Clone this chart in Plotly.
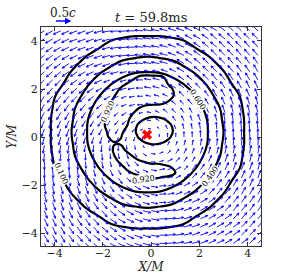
import math
import plotly.graph_objects as go
import plotly.figure_factory as ff

# ---------------- data ----------------
arrow_x = [-4.42, -4.08, -3.74, -3.40, -3.06, -2.72, -2.38, -2.04, -1.70, -1.36, -1.02, -0.68, -0.34, 0.0,
           0.34, 0.68, 1.02, 1.36, 1.70, 2.04, 2.38, 2.72, 3.06, 3.40, 3.74, 4.08, 4.42]
arrow_y = [4.42, 4.08, 3.74, 3.40, 3.06, 2.72, 2.38, 2.04, 1.70, 1.36, 1.02, 0.68, 0.34, 0.0,
           -0.34, -0.68, -1.02, -1.36, -1.70, -2.04, -2.38, -2.72, -3.06, -3.40, -3.74, -4.08, -4.42]

angle_rows = [
    [210,210,205,205,200,200,200,195,190,185,185,180,175,170,170,165,160,160,155,150,145,145,140,135,135,135,135],
    [210,210,210,205,200,200,200,195,195,190,185,180,175,170,170,165,160,155,150,150,145,140,140,135,135,135,135],
    [215,215,210,205,205,200,200,200,195,190,185,180,175,170,170,165,160,155,150,145,140,140,135,135,135,130,130],
    [215,215,215,210,205,205,200,200,195,190,185,180,175,170,170,165,160,155,150,145,140,135,135,135,130,130,130],
    [220,220,215,215,210,205,205,200,200,195,190,180,175,170,170,165,155,150,145,140,135,135,135,130,130,125,125],
    [225,220,220,215,215,210,205,200,200,195,190,185,175,170,170,160,155,150,145,140,135,135,130,130,125,125,120],
    [225,225,225,220,215,215,210,205,200,200,195,185,180,170,165,160,150,145,140,135,135,130,130,125,120,120,120],
    [230,230,225,225,220,220,215,210,205,200,195,190,180,170,165,155,150,140,135,135,130,125,125,120,120,115,115],
    [235,230,230,230,225,225,220,215,210,205,200,190,180,170,165,155,145,135,135,130,125,120,120,115,115,115,110],
    [240,235,235,235,230,230,225,220,215,210,200,195,185,170,160,150,140,135,130,125,120,115,115,110,110,110,105],
    [240,240,240,240,235,235,230,230,225,220,210,200,190,170,155,140,135,125,120,115,115,110,110,105,105,105,105],
    [245,245,245,245,245,240,240,235,235,230,220,210,195,170,150,135,125,115,110,110,105,105,100,100,100,100,100],
    [250,250,250,250,250,250,245,245,245,240,235,230,210,170,135,115,110,105,100,100,100,95,95,95,95,95,95],
    [255,255,255,255,255,255,255,255,255,255,255,255,255,0,90,90,90,90,90,90,90,90,90,90,90,90,90],
    [260,260,260,260,260,260,265,265,265,270,275,280,300,350,45,65,70,75,80,80,80,85,85,85,85,85,85],
    [265,265,265,265,265,270,270,275,275,280,290,300,325,350,20,45,55,65,70,70,75,75,80,80,80,80,80],
    [270,270,270,270,275,275,280,280,285,290,300,310,330,350,15,30,45,55,60,65,65,70,70,75,75,75,75],
    [270,275,275,275,280,280,285,290,295,300,310,325,335,350,10,20,30,45,50,55,60,65,65,70,70,70,75],
    [275,280,280,280,285,285,290,295,300,305,320,330,340,350,5,15,25,35,45,50,55,60,60,65,65,65,70],
    [280,280,285,285,290,290,295,300,305,310,325,330,340,350,5,15,20,30,35,45,50,55,55,60,60,65,65],
    [285,285,285,290,295,295,300,305,310,320,325,335,340,350,5,10,20,25,30,35,45,50,50,55,60,60,60],
    [285,290,290,295,295,300,305,310,320,325,330,335,345,350,0,10,15,20,25,30,35,45,50,50,55,55,60],
    [290,290,295,295,300,305,305,310,320,325,330,340,345,350,0,5,15,20,25,30,35,35,45,50,50,55,55],
    [295,295,295,300,305,305,310,320,325,330,335,340,345,350,0,5,10,15,20,25,30,35,35,45,50,50,50],
    [295,295,300,305,305,310,310,320,325,330,335,340,345,350,0,5,10,15,20,25,30,30,35,35,45,50,50],
    [300,300,300,305,310,310,320,325,325,330,335,340,345,350,0,5,10,15,20,20,25,30,30,35,45,45,45],
    [300,300,305,305,310,320,320,325,330,335,335,340,345,350,0,5,10,10,15,20,25,25,30,35,35,45,45],
]

speed_rows = [
    "666666666666666666666666666",
    "666666666666666666666666666",
    "666666666666666666666666666",
    "666666666666666666666666666",
    "666666666666666666666666666",
    "666666666655555556666666666",
    "666666665555555555566666666",
    "666666655555555555556666666",
    "666666555544444445555666666",
    "666666555444444444555666666",
    "666665554444333444455566666",
    "666665554443333344455566666",
    "666665554433222334455566666",
    "666665554433202334455566666",
    "666665554433222334455566666",
    "666665554443333344455566666",
    "666665554444333444455566666",
    "666666555444444444555666666",
    "666666555544444445555666666",
    "666666655555555555556666666",
    "666666665555555555566666666",
    "666666666655555556666666666",
    "666666666666666666666666666",
    "666666666666666666666666666",
    "666666666666666666666666666",
    "666666666666666666666666666",
    "666666666666666666666666666",
]
speed_unit = 0.04
key_speed = 0.5

# coarse density grid (whole box), rows bottom -> top
dens_x = [-4.65, -4.15, -3.65, -3.15, -2.65, -2.15, -1.65, -1.15, -0.65, -0.15,
          0.35, 0.85, 1.35, 1.85, 2.35, 2.85, 3.35, 3.85, 4.35]
dens_y = [-4.3, -3.8, -3.3, -2.8, -2.3, -1.8, -1.3, -0.8, -0.3, 0.2,
          0.7, 1.2, 1.7, 2.2, 2.7, 3.2, 3.7, 4.2, 4.7]
dens_rows = [
    [0,0,0,0,0,0,0,0,.01,.02,.01,0,0,0,0,0,0,0,0],
    [0,0,0,0,0,.02,.06,.08,.10,.10,.10,.08,.06,.02,0,0,0,0,0],
    [0,0,0,0,.05,.10,.17,.23,.26,.28,.26,.23,.17,.10,.05,0,0,0,0],
    [0,0,0,.06,.13,.24,.33,.40,.43,.45,.43,.40,.33,.24,.13,.06,0,0,0],
    [0,0,.05,.13,.26,.38,.47,.54,.59,.60,.59,.54,.47,.38,.26,.13,.05,0,0],
    [0,.02,.10,.24,.38,.50,.60,.69,.75,.77,.75,.69,.60,.50,.38,.24,.10,.02,0],
    [0,.06,.17,.33,.47,.60,.73,.82,.86,.87,.86,.82,.73,.60,.47,.33,.17,.06,0],
    [0,.08,.23,.40,.54,.69,.82,.88,.89,.89,.89,.88,.82,.69,.54,.40,.23,.08,0],
    [.01,.10,.26,.43,.59,.75,.86,.89,.90,.90,.90,.89,.86,.75,.59,.43,.26,.10,.01],
    [.02,.10,.28,.45,.60,.77,.87,.89,.90,.90,.90,.89,.87,.77,.60,.45,.28,.10,.02],
    [.01,.10,.26,.43,.59,.75,.86,.89,.90,.90,.90,.89,.86,.75,.59,.43,.26,.10,.01],
    [0,.08,.23,.40,.54,.69,.82,.88,.89,.89,.89,.88,.82,.69,.54,.40,.23,.08,0],
    [0,.06,.17,.33,.47,.60,.73,.82,.86,.87,.86,.82,.73,.60,.47,.33,.17,.06,0],
    [0,.02,.10,.24,.38,.50,.60,.69,.75,.77,.75,.69,.60,.50,.38,.24,.10,.02,0],
    [0,0,.05,.13,.26,.38,.47,.54,.59,.60,.59,.54,.47,.38,.26,.13,.05,0,0],
    [0,0,0,.06,.13,.24,.33,.40,.43,.45,.43,.40,.33,.24,.13,.06,0,0,0],
    [0,0,0,0,.05,.10,.17,.23,.26,.28,.26,.23,.17,.10,.05,0,0,0,0],
    [0,0,0,0,0,.02,.06,.08,.10,.10,.10,.08,.06,.02,0,0,0,0,0],
    [0,0,0,0,0,0,0,0,.01,.02,.01,0,0,0,0,0,0,0,0],
]
ring_levels = [0.1, 0.4, 0.6]

# refined density grid of the core, rows bottom -> top
core_x = [-2.25, -2.0, -1.75, -1.5, -1.25, -1.0, -0.75, -0.5, -0.25, 0.0, 0.25, 0.5, 0.75, 1.0, 1.25]
core_y = [-2.0, -1.75, -1.5, -1.25, -1.0, -0.75, -0.5, -0.25, 0.0, 0.25, 0.5, 0.75,
          1.0, 1.25, 1.5, 1.75, 2.0, 2.25, 2.5, 2.75]
core_rows = [
    [.75,.75,.773,.80,.824,.839,.851,.864,.878,.881,.876,.867,.862,.86,.843],
    [.75,.76,.794,.826,.854,.875,.887,.90,.913,.918,.914,.905,.90,.895,.87],
    [.773,.80,.827,.854,.88,.906,.922,.935,.948,.955,.951,.943,.939,.922,.885],
    [.793,.826,.854,.881,.907,.933,.958,.961,.95,.943,.941,.935,.925,.908,.878],
    [.806,.842,.877,.907,.934,.96,.942,.925,.914,.903,.904,.898,.888,.875,.855],
    [.815,.85,.887,.924,.96,.937,.913,.888,.878,.867,.866,.86,.851,.838,.826],
    [.822,.86,.897,.933,.937,.906,.884,.865,.881,.889,.889,.881,.866,.845,.822],
    [.838,.869,.892,.916,.912,.883,.872,.898,.917,.926,.926,.917,.898,.873,.844],
    [.853,.889,.922,.94,.922,.889,.893,.926,.953,.965,.965,.953,.927,.895,.86],
    [.859,.896,.934,.971,.937,.899,.903,.941,.978,1.0,1.0,.98,.943,.905,.867],
    [.87,.908,.945,.983,.96,.923,.896,.93,.958,.97,.97,.959,.931,.898,.862],
    [.865,.901,.938,.974,.971,.934,.898,.902,.922,.932,.932,.923,.903,.877,.846],
    [.858,.895,.932,.968,.983,.948,.922,.893,.887,.895,.895,.887,.871,.85,.823],
    [.851,.887,.924,.958,.99,.975,.946,.925,.911,.906,.905,.90,.882,.867,.842],
    [.84,.874,.905,.938,.97,1.0,.973,.96,.947,.944,.943,.937,.918,.895,.863],
    [.823,.854,.886,.918,.95,.98,1.0,.995,.983,.98,.98,.963,.947,.912,.875],
    [.80,.834,.866,.898,.928,.95,.97,.99,1.0,1.0,1.0,.97,.936,.906,.871],
    [.782,.815,.847,.875,.898,.918,.938,.959,.968,.966,.965,.948,.907,.883,.855],
    [.762,.794,.823,.847,.866,.886,.906,.925,.93,.929,.928,.922,.883,.853,.83],
    [.75,.77,.794,.815,.835,.854,.875,.889,.893,.892,.89,.886,.86,.82,.80],
]
core_levels = [0.92]

# inline contour labels: level, position (M), rotation (deg)
label_levels = [0.1, 0.92, 0.6, 0.4, 0.92]
label_pos = [(-3.72, -1.5), (-1.78, 1.05), (1.92, 1.55), (2.45, -1.65), (-0.3, -1.76)]
label_rot = [65, -66, 57, -55, -8]

max_pos = [(-0.17, 0.1)]
time_label = "59.8ms"
x_ticks = [-4, -2, 0, 2, 4]
y_ticks = [-4, -2, 0, 2, 4]

# ---------------- figure ----------------
vel_scale = 1.4

qx, qy, qu, qv = [], [], [], []
for i, yv in enumerate(arrow_y):
    for j, xv in enumerate(arrow_x):
        s = int(speed_rows[i][j]) * speed_unit
        if s == 0:
            continue
        a = math.radians(angle_rows[i][j])
        qx.append(xv)
        qy.append(yv)
        qu.append(s * math.cos(a))
        qv.append(s * math.sin(a))

quiv = ff.create_quiver(qx, qy, qu, qv, scale=vel_scale, arrow_scale=0.32,
                        angle=math.pi / 7, line=dict(color="#0000ff", width=0.9))

fig = go.Figure()
for tr in quiv.data:
    tr.hoverinfo = "skip"
    fig.add_trace(tr)


def add_levels(xs, ys, zs, levels):
    for lev in levels:
        fig.add_trace(go.Contour(
            x=xs, y=ys, z=zs, autocontour=False,
            contours=dict(start=lev, end=lev, size=0.01, coloring="lines", showlabels=False),
            colorscale=[[0, "black"], [1, "black"]],
            line=dict(width=2.2, smoothing=1.3),
            showscale=False, hoverinfo="skip"))


add_levels(dens_x, dens_y, dens_rows, ring_levels)
add_levels(core_x, core_y, core_rows, core_levels)

for lev, (lx, ly), rot in zip(label_levels, label_pos, label_rot):
    fig.add_annotation(x=lx, y=ly, xref="x", yref="y", text=f"{lev:.3f}",
                       showarrow=False, textangle=rot, bgcolor="white", borderpad=0,
                       font=dict(size=8, color="black", family="DejaVu Serif"))

fig.add_trace(go.Scatter(
    x=[p[0] for p in max_pos], y=[p[1] for p in max_pos], mode="markers",
    marker=dict(symbol="x", color="red", size=9, line=dict(width=0)),
    hoverinfo="skip"))

axis_common = dict(showline=True, linecolor="#333", linewidth=1, mirror="ticks",
                   ticks="inside", ticklen=4, tickcolor="#333", showgrid=False,
                   zeroline=False, automargin=False, tickfont=dict(size=11, color="#222"))
fig.update_xaxes(range=[-4.56, 4.55], tickvals=x_ticks, ticklabelstandoff=-3, **axis_common,
                 title=dict(text="<i>X/M</i>", font=dict(size=12), standoff=2))
fig.update_yaxes(range=[-4.53, 4.58], tickvals=y_ticks, **axis_common,
                 title=dict(text="<i>Y/M</i>", font=dict(size=12), standoff=2))

key_head = -3.3
fig.add_annotation(x=key_head, y=1, xref="x", yref="paper", yshift=6,
                   ax=key_head - key_speed * vel_scale, ay=0, axref="x", ayref="pixel",
                   showarrow=True, arrowhead=2, arrowsize=0.8, arrowwidth=1.6,
                   arrowcolor="#0000ff", text="")
fig.add_annotation(x=key_head - key_speed * vel_scale / 2, y=1, xref="x", yref="paper",
                   yshift=14, showarrow=False, text="0.5<i>c</i>",
                   font=dict(size=12, color="#222"), yanchor="middle")
fig.add_annotation(x=0.5, y=1, xref="paper", yref="paper", yanchor="bottom", yshift=0,
                   showarrow=False, text="<i>t</i> = " + time_label,
                   font=dict(size=13, color="#222"))

fig.update_layout(width=293, height=274, margin=dict(l=41, r=32, t=27, b=28, autoexpand=False),
                  paper_bgcolor="white", plot_bgcolor="white", showlegend=False,
                  font=dict(family="DejaVu Serif", color="#222"))

fig.write_html("out.html", config={"displayModeBar": False},
               post_script="document.body.style.margin='0px';")
